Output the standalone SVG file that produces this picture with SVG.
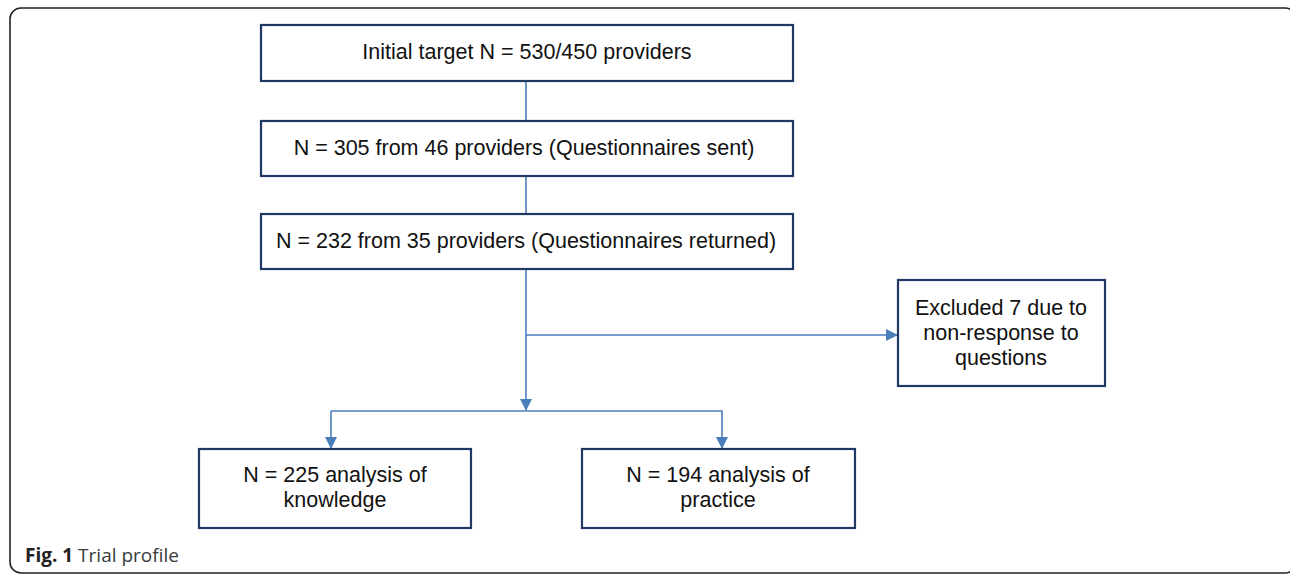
<svg xmlns="http://www.w3.org/2000/svg" width="1290" height="576" viewBox="0 0 1290 576">
<style>
.box{fill:#fff;stroke:#203864;stroke-width:2.2}
.t{font-family:"Liberation Sans",Arial,sans-serif;font-size:21.5px;fill:#111;text-anchor:middle;dominant-baseline:central}
.c{fill:none;stroke:#4a7ebb;stroke-width:1.6}
.cap{font-family:"Open Sans","Noto Sans",sans-serif;font-size:19px;fill:#3a3a3a}
</style>
<defs>
<marker id="ah" markerWidth="12" markerHeight="12" viewBox="0 0 12 12" refX="11" refY="6" orient="auto" markerUnits="userSpaceOnUse">
<path d="M0,0 L12,6 L0,12 Z" fill="#4a7ebb"/>
</marker>
</defs>
<rect x="10" y="8" width="1286" height="565" rx="11" fill="#fff" stroke="#222" stroke-width="1.6"/>
<g id="connectors">
<line class="c" x1="526" y1="81" x2="526" y2="121"/>
<line class="c" x1="526" y1="176" x2="526" y2="214"/>
<line class="c" x1="526" y1="269" x2="526" y2="410" marker-end="url(#ah)"/>
<line class="c" x1="526" y1="335" x2="897" y2="335" marker-end="url(#ah)"/>
<polyline class="c" points="331,411 722,411 722,448" marker-end="url(#ah)"/>
<line class="c" x1="331" y1="411" x2="331" y2="448" marker-end="url(#ah)"/>
</g>
<g id="n1"><rect class="box" x="261" y="25" width="532" height="56"/><text class="t" x="527" y="52">Initial target N = 530/450 providers</text></g>
<g id="n2"><rect class="box" x="261" y="121" width="532" height="55"/><text class="t" x="524" y="148">N = 305 from 46 providers (Questionnaires sent)</text></g>
<g id="n3"><rect class="box" x="261" y="214" width="532" height="55"/><text class="t" x="526" y="241">N = 232 from 35 providers (Questionnaires returned)</text></g>
<g id="n4"><rect class="box" x="898" y="280" width="207" height="106"/><text class="t" x="1001" y="308">Excluded 7 due to</text><text class="t" x="1001" y="333">non-response to</text><text class="t" x="1001" y="358">questions</text></g>
<g id="n5"><rect class="box" x="199" y="449" width="272" height="79"/><text class="t" x="335" y="475">N = 225 analysis of</text><text class="t" x="335" y="500">knowledge</text></g>
<g id="n6"><rect class="box" x="582" y="449" width="273" height="79"/><text class="t" x="718" y="475">N = 194 analysis of</text><text class="t" x="718" y="500">practice</text></g>
<text class="cap" x="25" y="562"><tspan font-weight="bold" fill="#222">Fig. 1</tspan> Trial profile</text>
</svg>
